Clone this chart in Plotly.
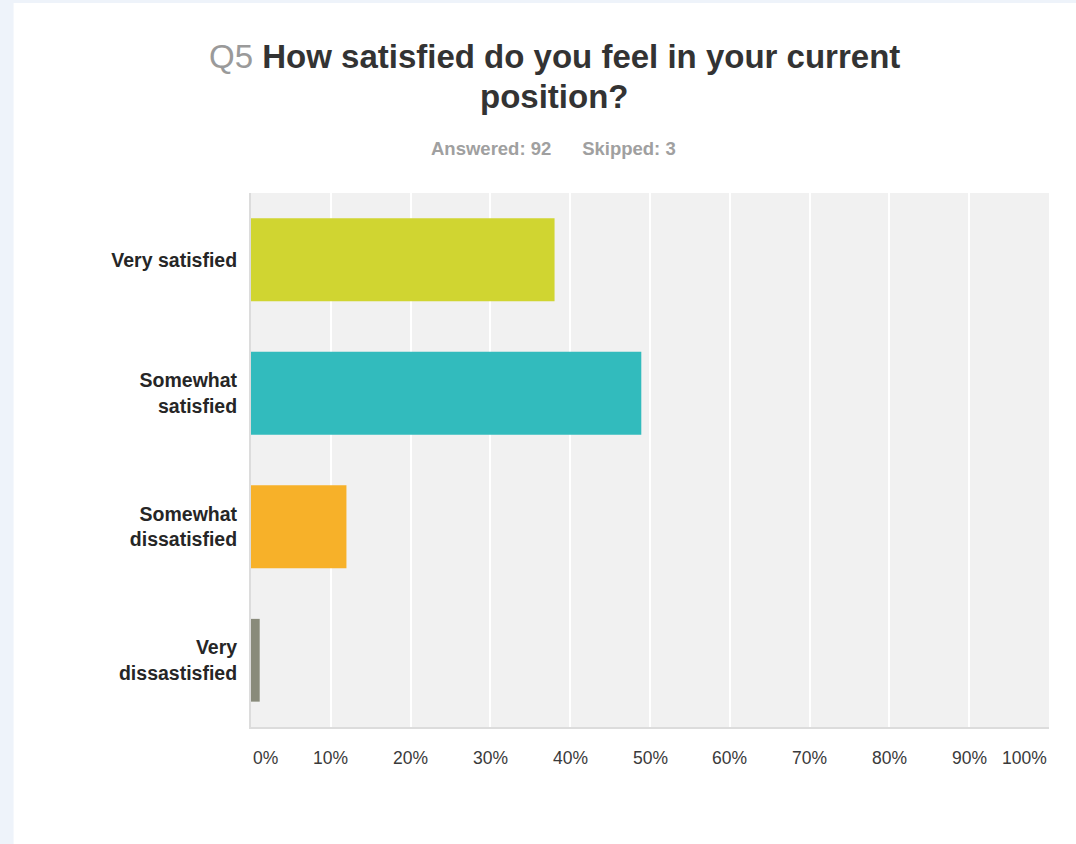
import plotly.graph_objects as go

# Survey question Q5 – share of respondents per answer choice
answer_choices = ["Very satisfied", "Somewhat<br>satisfied",
                  "Somewhat<br>dissatisfied", "Very<br>dissastisfied"]
response_pct = [38.04, 48.91, 11.96, 1.09]
bar_colors = ["#D0D531", "#32BBBD", "#F7B129", "#898B7B"]

tick_values = [0, 10, 20, 30, 40, 50, 60, 70, 80, 90, 100]
tick_labels = ["0%", "10%", "20%", "30%", "40%", "50%", "60%", "70%", "80%", "90%", "100%"]

question_id = "Q5"
question_line1 = "How satisfied do you feel in your current"
question_line2 = "position?"
answered, skipped = 92, 3

FONT = "Arial, Liberation Sans, sans-serif"

fig = go.Figure(
    go.Bar(
        x=response_pct,
        y=answer_choices,
        orientation="h",
        marker=dict(color=bar_colors, line=dict(width=0)),
        width=0.62,
        hoverinfo="skip",
    )
)

# x tick labels: first label hugs the left edge, last one the right edge
tick_annotations = []
for i, (v, t) in enumerate(zip(tick_values, tick_labels)):
    anchor = "left" if i == 0 else ("right" if i == len(tick_values) - 1 else "center")
    tick_annotations.append(dict(
        x=v, y=0, xref="x", yref="paper", text=t, showarrow=False,
        xanchor=anchor, yanchor="top", yshift=-19,
        font=dict(family=FONT, size=17.5, color="#3a3a3a"),
    ))

header_annotations = [
    dict(x=0.3803, y=1.2547, xref="paper", yref="paper", showarrow=False,
         xanchor="center", yanchor="middle",
         text=f"<span style='color:#9a9a9a'>{question_id}</span> <b>{question_line1}</b>",
         font=dict(family=FONT, size=33, color="#333333")),
    dict(x=0.3803, y=1.1798, xref="paper", yref="paper", showarrow=False,
         xanchor="center", yanchor="middle",
         text=f"<b>{question_line2}</b>",
         font=dict(family=FONT, size=33, color="#333333")),
    dict(x=0.379, y=1.0824, xref="paper", yref="paper", showarrow=False,
         xanchor="center", yanchor="middle",
         text=f"<b>Answered: {answered}</b>      <b>Skipped: {skipped}</b>",
         font=dict(family=FONT, size=18.5, color="#a0a0a0")),
]

# page frame: light blue strips along the left and top edges
frame_shapes = [
    dict(type="rect", xref="paper", yref="paper", x0=-0.5, x1=-0.2975, y0=-0.5, y1=1.6,
         fillcolor="#EEF3FA", line=dict(width=0), layer="below"),
    dict(type="rect", xref="paper", yref="paper", x0=-0.5, x1=1.5, y0=1.3558, y1=1.6,
         fillcolor="#EEF3FA", line=dict(width=0), layer="below"),
]

fig.update_layout(
    width=1076,
    height=844,
    margin=dict(l=251, r=27, t=193, b=117, pad=0),
    paper_bgcolor="#FFFFFF",
    plot_bgcolor="#F1F1F1",
    showlegend=False,
    bargap=0.38,
    font=dict(family=FONT, color="#333333"),
    annotations=tick_annotations + header_annotations,
    shapes=frame_shapes,
)

fig.update_xaxes(
    range=[0, 100],
    tickvals=tick_values,
    showticklabels=False,
    showgrid=True,
    gridcolor="#FFFFFF",
    gridwidth=2,
    zeroline=False,
    showline=True,
    linecolor="#DCDCDC",
    linewidth=2,
    fixedrange=True,
)

fig.update_yaxes(
    categoryorder="array",
    categoryarray=answer_choices,
    autorange="reversed",
    showgrid=False,
    zeroline=False,
    showline=True,
    linecolor="#DCDCDC",
    linewidth=2,
    ticks="",
    ticklabelstandoff=8,
    tickfont=dict(family=FONT, size=19.5, color="#262626", weight="bold"),
    fixedrange=True,
)

fig.write_html("out.html", config={"displayModeBar": False})
